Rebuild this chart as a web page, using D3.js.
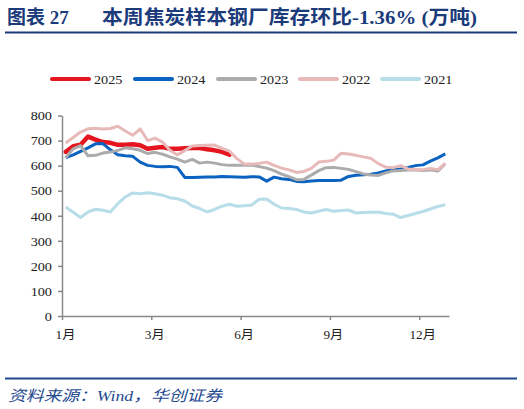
<!DOCTYPE html>
<html><head><meta charset="utf-8">
<script src="https://cdn.jsdelivr.net/npm/d3@7"></script>
<style>
html,body{margin:0;padding:0;background:#fff;}
svg{display:block;}
</style></head>
<body>
<svg id="chart" width="524" height="409"></svg>
<script>
// ---- data ----
const titleLead = "图表 27";
const titleMain = "本周焦炭样本钢厂库存环比-1.36% (万吨)";
const sourceText = "资料来源：Wind，华创证券";
const seriesNames = ["2025", "2024", "2023", "2022", "2021"];
const monthTickWeeks = [0, 12, 24, 36, 48];
const monthTickLabels = ["1月", "3月", "6月", "9月", "12月"];
const yTicks = [0, 100, 200, 300, 400, 500, 600, 700, 800];

const v2025 = [655, 677, 683, 716, 704, 694, 691, 683, 683, 685, 681, 667, 671, 674, 667, 667, 669, 670, 670, 665, 661, 655, 644];
const v2024 = [632, 643, 657, 671, 687, 688, 663, 643, 639, 637, 614, 601, 597, 596, 597, 593, 553, 553, 554, 555, 555, 557, 556, 555, 554, 556, 555, 538, 554, 548, 545, 537, 536, 539, 541, 541, 541, 542, 557, 562, 564, 566, 571, 579, 584, 587, 593, 600, 603, 618, 631, 647];
const v2023 = [632, 667, 680, 639, 641, 650, 654, 661, 671, 667, 661, 648, 653, 646, 635, 626, 614, 625, 610, 614, 610, 604, 601, 601, 601, 602, 596, 590, 580, 566, 556, 544, 545, 562, 580, 592, 593, 589, 585, 576, 567, 563, 561, 571, 579, 581, 583, 583, 581, 583, 578, 608];
const v2022 = [690, 712, 734, 747, 749, 746, 748, 757, 738, 721, 747, 700, 710, 694, 661, 643, 660, 678, 680, 681, 682, 669, 658, 628, 606, 606, 609, 614, 601, 590, 583, 573, 577, 589, 614, 617, 622, 649, 646, 641, 635, 629, 608, 594, 592, 600, 587, 584, 584, 589, 584, 609];
const v2021 = [435, 414, 393, 415, 426, 422, 415, 448, 475, 491, 488, 492, 488, 482, 472, 468, 459, 439, 429, 415, 425, 438, 446, 438, 440, 443, 466, 467, 446, 431, 429, 425, 415, 411, 418, 425, 418, 421, 423, 411, 413, 414, 415, 409, 406, 393, 401, 409, 417, 427, 437, 444];

const seriesValues = [v2025, v2024, v2023, v2022, v2021];
const seriesColors = ["#E5161F", "#0A63C0", "#ABABAB", "#E7B9B8", "#B7DEE8"];
const seriesWidths = [4.5, 3, 3, 3, 3];

// ---- setup ----
const svg = d3.select("#chart");
const serif = "'Liberation Serif','Times New Roman','Noto Sans CJK SC',serif";
const navy = "#1B3B7B";
const SX = 1.14; // horizontal stretch of the reference's small text

const x = d3.scaleLinear().domain([0, 52]).range([62, 449]);
const y = d3.scaleLinear().domain([0, 800]).range([316, 115.5]);

// title
const t = svg.append("text").attr("y", 24).attr("fill", navy)
  .attr("font-family", serif).attr("font-weight", "bold").attr("font-size", 19);
t.append("tspan").attr("x", 7).text(titleLead);
svg.append("text").attr("x", 102).attr("y", 24).attr("fill", navy)
  .attr("font-family", serif).attr("font-weight", "bold").attr("font-size", 19)
  .attr("textLength", 375).attr("lengthAdjust", "spacingAndGlyphs")
  .text(titleMain);
svg.append("line").attr("x1", 5).attr("x2", 517).attr("y1", 32.5).attr("y2", 32.5)
  .attr("stroke", navy).attr("stroke-width", 2);

// legend
const legX = [50, 133, 216, 298, 380];
seriesNames.forEach((n, i) => {
  svg.append("line").attr("x1", legX[i] + 2).attr("x2", legX[i] + 39)
    .attr("y1", 79).attr("y2", 79).attr("stroke", seriesColors[i])
    .attr("stroke-width", 4).attr("stroke-linecap", "round");
  svg.append("text").attr("transform", `translate(${legX[i] + 44},83.5) scale(${SX},1)`)
    .attr("font-family", serif).attr("font-size", 12.5).attr("fill", "#222")
    .text(n);
});

// axes
const yAxis = svg.append("g").attr("transform", `translate(${x(0)},0)`)
  .call(d3.axisLeft(y).tickValues(yTicks).tickSize(4).tickSizeOuter(0).tickFormat(d3.format("d")));
const xAxis = svg.append("g").attr("transform", `translate(0,${y(0)})`)
  .call(d3.axisBottom(x).tickValues(monthTickWeeks).tickSize(4).tickSizeOuter(0)
    .tickFormat((d, i) => monthTickLabels[i]));
[yAxis, xAxis].forEach(g => {
  g.select(".domain").attr("stroke", "#888").attr("stroke-width", 1.5);
  g.selectAll(".tick line").attr("stroke", "#888").attr("stroke-width", 1.5);
  g.selectAll("text").attr("font-family", serif).attr("font-size", 12.5).attr("fill", "#222");
});
yAxis.selectAll(".tick text").attr("x", null).attr("dy", null)
  .attr("transform", `translate(-10,4.3) scale(${SX},1)`);
xAxis.selectAll(".tick text").attr("y", null).attr("dy", null)
  .attr("transform", `translate(3,23) scale(${SX * 0.93},1)`);

// lines (draw 2025 last so it sits on top? reference: Excel order, first series at bottom)
const lineGen = d3.line().x((d, i) => x(i + 0.5)).y(d => y(d));
const order = [0, 1, 2, 3, 4];
order.forEach(i => {
  svg.append("path").datum(seriesValues[i])
    .attr("d", lineGen).attr("fill", "none")
    .attr("stroke", seriesColors[i]).attr("stroke-width", seriesWidths[i])
    .attr("stroke-linejoin", "round").attr("stroke-linecap", i === 0 ? "round" : "butt");
});

// source
svg.append("line").attr("x1", 5).attr("x2", 517).attr("y1", 378.5).attr("y2", 378.5)
  .attr("stroke", "#1F4A8F").attr("stroke-width", 2);
svg.append("text").attr("x", 8).attr("y", 400.5)
  .attr("font-family", serif).attr("font-style", "italic").attr("font-size", 15)
  .attr("fill", "#1F4A8F").attr("textLength", 214).attr("lengthAdjust", "spacingAndGlyphs")
  .text(sourceText);
</script>
</body></html>
